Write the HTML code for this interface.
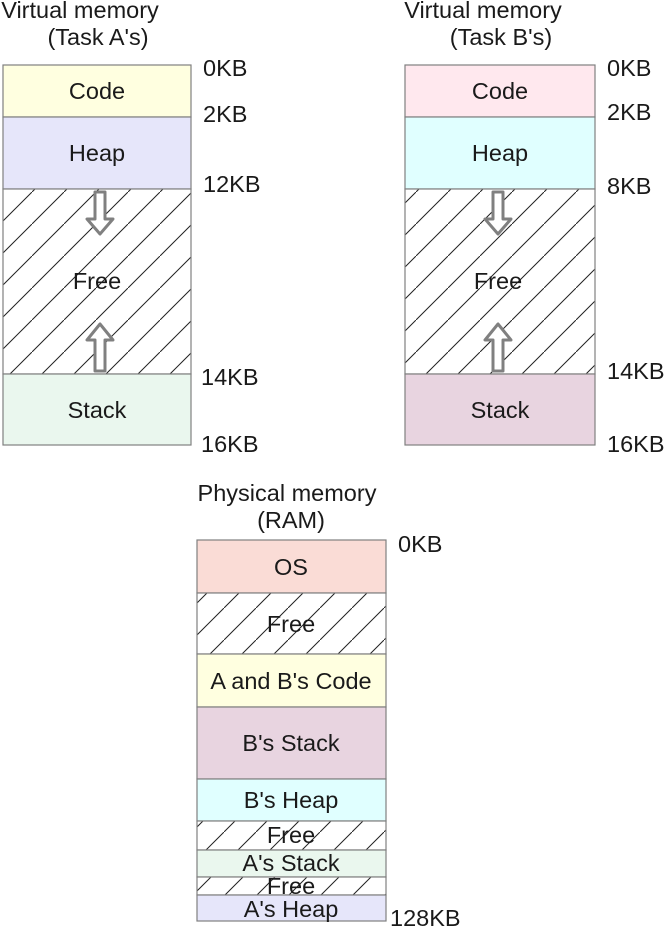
<!DOCTYPE html>
<html><head><style>body{margin:0;background:#fff}svg{display:block}</style></head><body>
<svg width="665" height="927" xmlns="http://www.w3.org/2000/svg" font-family="Liberation Sans, sans-serif" font-size="23.5" fill="#1a1a1a">
<defs>
<pattern id="h" patternUnits="userSpaceOnUse" width="32" height="32">
<rect width="32" height="32" fill="#fff"/>
<line x1="-2" y1="34" x2="34" y2="-2" stroke="#222" stroke-width="1"/>
</pattern>
</defs>
<g stroke="#808080" stroke-width="1.2">
<rect x="3" y="65" width="188" height="52" fill="#ffffe0"/>
<rect x="3" y="117" width="188" height="72" fill="#e6e6fa"/>
<rect x="3" y="189" width="188" height="185" fill="url(#h)"/>
<rect x="3" y="374" width="188" height="71" fill="#eaf7ee"/>
<rect x="405" y="65" width="190" height="52" fill="#ffe8ee"/>
<rect x="405" y="117" width="190" height="72" fill="#e0ffff"/>
<rect x="405" y="189" width="190" height="185" fill="url(#h)"/>
<rect x="405" y="374" width="190" height="71" fill="#e8d4e0"/>
<rect x="197" y="540" width="189" height="53" fill="#fadcd6"/>
<rect x="197" y="593" width="189" height="61" fill="url(#h)"/>
<rect x="197" y="654" width="189" height="53" fill="#ffffe0"/>
<rect x="197" y="707" width="189" height="72" fill="#e8d4e0"/>
<rect x="197" y="779" width="189" height="42" fill="#e0ffff"/>
<rect x="197" y="821" width="189" height="29" fill="url(#h)"/>
<rect x="197" y="850" width="189" height="27" fill="#eaf7ee"/>
<rect x="197" y="877" width="189" height="18" fill="url(#h)"/>
<rect x="197" y="895" width="189" height="26" fill="#e6e6fa"/>
</g>
<g fill="#fff" stroke="#808080" stroke-width="3" stroke-linejoin="round">
<path d="M95,192 H105 V219 H113 L100,234 L87,219 H95 Z"/>
<path d="M95,371 H105 V340 H113 L100,324 L87,340 H95 Z"/>
<path d="M493,192 H503 V219 H511 L498,234 L485,219 H493 Z"/>
<path d="M493,371 H503 V340 H511 L498,324 L485,340 H493 Z"/>
</g>
<g text-anchor="middle">
<text x="80" y="18">Virtual memory</text>
<text x="98" y="45">(Task A's)</text>
<text x="483" y="18">Virtual memory</text>
<text x="501" y="45">(Task B's)</text>
<text x="97" y="99">Code</text>
<text x="97" y="161">Heap</text>
<text x="97" y="289">Free</text>
<text x="97" y="418">Stack</text>
<text x="500" y="99">Code</text>
<text x="500" y="161">Heap</text>
<text x="498" y="289">Free</text>
<text x="500" y="418">Stack</text>
<text x="287" y="501">Physical memory</text>
<text x="291" y="528">(RAM)</text>
<text x="291" y="575">OS</text>
<text x="291" y="632">Free</text>
<text x="291" y="689">A and B's Code</text>
<text x="291" y="751">B's Stack</text>
<text x="291" y="808">B's Heap</text>
<text x="291" y="843">Free</text>
<text x="291" y="871">A's Stack</text>
<text x="291" y="894">Free</text>
<text x="291" y="917">A's Heap</text>
</g>
<g>
<text x="203" y="76">0KB</text>
<text x="203" y="122">2KB</text>
<text x="203" y="192">12KB</text>
<text x="201" y="385">14KB</text>
<text x="201" y="452">16KB</text>
<text x="607" y="76">0KB</text>
<text x="607" y="120">2KB</text>
<text x="607" y="194">8KB</text>
<text x="607" y="379">14KB</text>
<text x="607" y="452">16KB</text>
<text x="398" y="552">0KB</text>
<text x="390" y="926">128KB</text>
</g>
</svg>
</body></html>
